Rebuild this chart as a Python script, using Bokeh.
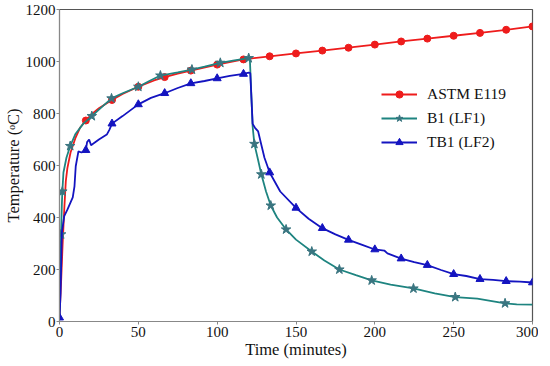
from bokeh.plotting import figure
from bokeh.embed import file_html
from bokeh.resources import INLINE
from bokeh.models import Range1d, FixedTicker

# ---- data ----
astm_t = [0, 1, 2, 3, 4, 5, 7, 10, 13, 16.7, 20, 25, 33.3, 40, 50, 60, 66.7, 75, 83.3, 100,
          116.7, 133.3, 150, 166.7, 183.3, 200, 216.7, 233.3, 250, 266.7, 283.3, 300]
astm_v = [20, 150, 300, 430, 540, 590, 650, 704, 745, 773, 795, 820, 852, 875, 903, 927, 940, 953, 965, 988,
          1008, 1020, 1031, 1042, 1053, 1065, 1077, 1088, 1099, 1110, 1122, 1135]
astm_mt = [16.7, 33.3, 50, 66.7, 83.3, 100, 116.7, 133.3, 150, 166.7, 183.3, 200, 216.7, 233.3, 250, 266.7, 283.3, 300]
astm_mv = [773, 852, 903, 940, 965, 988, 1008, 1020, 1031, 1042, 1053, 1065, 1077, 1088, 1099, 1110, 1122, 1135]

b1_t = [0, 0.5, 1, 1.5, 1.8, 2.5, 4.4, 6.8, 10, 15, 20.5, 25, 33, 40, 50, 57, 64, 75, 84, 92, 102, 110, 117, 120,
        120.8, 122.5, 123.6, 126, 128, 131, 134, 138, 143.7, 150, 160, 168, 177.5, 188, 198, 210, 224.5, 238, 251,
        265, 282.6, 290, 300]
b1_v = [20, 200, 335, 450, 500, 573, 630, 675, 720, 760, 790, 815, 858, 878, 903, 925, 946, 958, 969, 980, 995,
        1003, 1010, 1013, 1000, 750, 683, 620, 566, 500, 446, 400, 354, 315, 269, 235, 200, 178, 158, 142, 127,
        108, 94, 88, 70, 66, 65]
b1_mt = [1, 1.8, 6.8, 20.5, 33, 50, 64, 84, 102, 120, 123.6, 128, 134, 143.7, 160, 177.5, 198, 224.5, 251, 282.6]
b1_mv = [335, 500, 675, 790, 858, 903, 946, 969, 995, 1013, 683, 566, 446, 354, 269, 200, 158, 127, 94, 70]

tb1_t = [0, 0.7, 1.5, 3, 5, 8.4, 9.5, 10.3, 12, 14, 16.7, 17.5, 18.8, 20, 25, 30, 31.7, 33.3, 40, 50, 58, 66.7,
         75, 83.3, 92, 100, 108, 116.7, 120, 121, 122.5, 124, 126, 128, 130, 133.3, 140, 150, 158, 166.7, 175,
         183.3, 192, 200, 206, 208, 216.7, 225, 233.3, 242, 250, 258, 266.7, 275, 283.3, 292, 300]
tb1_v = [15, 110, 342, 405, 430, 477, 520, 597, 654, 650, 659, 690, 700, 678, 700, 719, 738, 761, 790, 835, 860,
         878, 898, 916, 925, 935, 945, 952, 957, 955, 760, 745, 731, 680, 630, 573, 500, 437, 395, 359, 335,
         314, 295, 277, 273, 262, 242, 228, 217, 198, 182, 175, 163, 160, 155, 153, 150]
tb1_mt = [0, 16.7, 33.3, 50, 66.7, 83.3, 100, 116.7, 133.3, 150, 166.7, 183.3, 200, 216.7, 233.3, 250, 266.7,
          283.3, 300]
tb1_mv = [15, 659, 761, 835, 878, 916, 935, 952, 573, 437, 359, 314, 277, 242, 217, 182, 163, 155, 150]

x_ticks = [0, 50, 100, 150, 200, 250, 300]
y_ticks = [0, 200, 400, 600, 800, 1000, 1200]

RED = "#ee1c1c"
TEAL = "#1e8480"
BLUE = "#1414c0"
FONT = "'Liberation Serif', 'Times New Roman', serif"

p = figure(frame_width=473, frame_height=312, output_backend="svg", toolbar_location=None,
           x_range=Range1d(0, 300), y_range=Range1d(0, 1200),
           min_border_left=55, min_border_right=6, min_border_top=9, min_border_bottom=34)

p.line(astm_t, astm_v, color=RED, line_width=1.8, legend_label="ASTM E119")
p.scatter(astm_mt, astm_mv, marker="circle", size=7, color=RED, legend_label="ASTM E119")

p.line(b1_t, b1_v, color=TEAL, line_width=1.8, legend_label="B1 (LF1)")
p.scatter(b1_mt, b1_mv, marker="star", size=10, color="#3a7580", legend_label="B1 (LF1)")

p.line(tb1_t, tb1_v, color=BLUE, line_width=1.8, legend_label="TB1 (LF2)")
p.scatter(tb1_mt, tb1_mv, marker="triangle", size=8, color=BLUE, legend_label="TB1 (LF2)")

p.grid.visible = False
p.outline_line_color = "#555555"
p.outline_line_width = 1.2

p.xaxis.ticker = FixedTicker(ticks=x_ticks)
p.yaxis.ticker = FixedTicker(ticks=y_ticks)
for ax in (p.xaxis[0], p.yaxis[0]):
    ax.minor_tick_line_color = None
    ax.major_tick_out = 3
    ax.major_tick_in = 0
    ax.major_label_standoff = 2
    ax.axis_line_color = "#888888"
    ax.major_tick_line_color = "#888888"
    ax.major_label_text_font = FONT
    ax.major_label_text_font_size = "15px"
    ax.major_label_text_color = "#111111"
    ax.axis_label_text_font = FONT
    ax.axis_label_text_font_size = "16.5px"
    ax.axis_label_text_font_style = "normal"
    ax.axis_label_text_color = "#111111"
p.yaxis.major_label_standoff = 1
p.xaxis.axis_label = "Time (minutes)"
p.yaxis.axis_label = "Temperature (ᵒC)"
p.xaxis.axis_label_standoff = 0
p.yaxis.axis_label_standoff = 0

lg = p.legend[0]
lg.location = (322, 170)
lg.border_line_color = None
lg.background_fill_alpha = 0
lg.label_text_font = FONT
lg.label_text_font_size = "15.5px"
lg.label_text_color = "#111111"
lg.glyph_width = 36
lg.glyph_height = 18
lg.spacing = 6
lg.padding = 4
lg.label_standoff = 10

open("out.html", "w").write(file_html(p, INLINE))
